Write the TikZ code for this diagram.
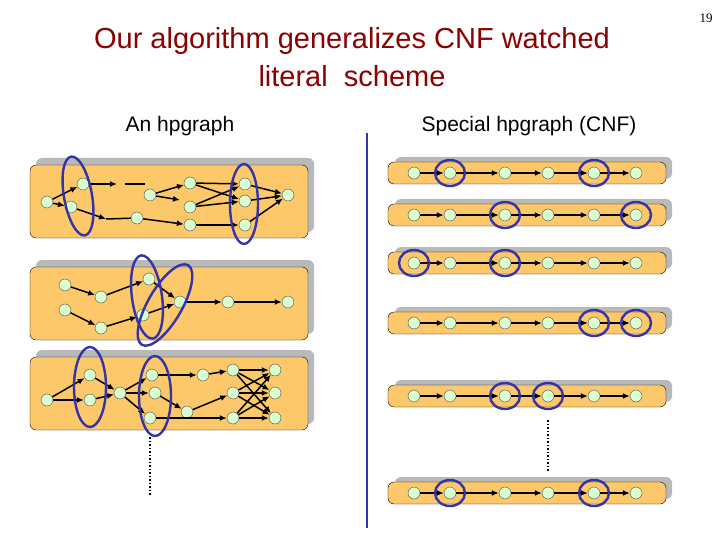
\documentclass[tikz,border=0pt]{standalone}
\usepackage{fontspec}
\setmainfont{Liberation Sans}
\newfontfamily\serifnum{Liberation Serif}
\usetikzlibrary{arrows.meta}
\definecolor{panel}{HTML}{FDC86A}
\definecolor{nodeg}{HTML}{D9FFD0}
\definecolor{ringc}{HTML}{3333AA}
\definecolor{titlec}{HTML}{8B0000}
\begin{document}
\begin{tikzpicture}[x=1pt,y=-1pt,
  v/.style={circle,draw=black!70,fill=nodeg,minimum size=12pt,inner sep=0pt},
  e/.style={-{Latex[length=7pt,width=6pt]},line width=1.5pt},
  ring/.style={draw=ringc,line width=2.4pt},
  shadowbox/.style={fill=gray!55,rounded corners=6pt},
  pbox/.style={fill=panel,draw=black,rounded corners=6pt}]
\useasboundingbox (0,0) rectangle (720,540);
\node[text=titlec,font=\fontsize{29}{38}\selectfont,align=center] (title) at (352,57) {Our algorithm generalizes CNF watched\\literal\ \ scheme};
\node[font=\serifnum\fontsize{13}{15}\selectfont] (pg) at (706,18) {19};
\node[font=\fontsize{21}{24}\selectfont] (l1) at (180,126) {An hpgraph};
\node[font=\fontsize{21}{24}\selectfont] (l2) at (529,126) {Special hpgraph (CNF)};
\draw[ringc,line width=2.5pt] (367,133) coordinate (d1) -- (367,528) coordinate (d2);
% left panels
\foreach \y in {165,267,357}{
  \fill[shadowbox] (36,\y-7) rectangle (314,\y+67);
  \draw[pbox] (30,\y) rectangle (308,\y+73);
}
% panel 1
\node[v] (a1) at (47,202) {}; \node[v] (a2) at (83,184) {}; \node[v] (a3) at (71,207) {};
\node[v] (a4) at (137,218) {}; \node[v] (a5) at (190,183) {}; \node[v] (a6) at (150,195) {};
\node[v] (a7) at (190,207) {}; \node[v] (a8) at (190,225) {}; \node[v] (a9) at (245,184) {};
\node[v] (a10) at (245,201) {}; \node[v] (a11) at (245,225) {}; \node[v] (a12) at (288,195) {};
\coordinate (c1) at (117,184); \coordinate (c2) at (125,184); \coordinate (c3) at (145,184);
\coordinate (c4) at (106,219); \coordinate (c5) at (180,200);
\draw[e] (a1)--(a2); \draw[e] (a1)--(a3); \draw[e] (a2)--(c1);
\draw[line width=1.5pt] (c2)--(c3);
\draw[e] (a3)--(c4); \draw[line width=1.5pt] (c4)--(a4);
\draw[e] (a4)--(a8); \draw[e] (a6)--(a5); \draw[e] (a6)--(c5);
\draw[e] (a5)--(a9); \draw[e] (a5)--(a10); \draw[e] (a7)--(a9); \draw[e] (a7)--(a10);
\draw[e] (a8)--(a11); \draw[e] (a9)--(a12); \draw[e] (a10)--(a12); \draw[e] (a11)--(a12);
\draw[ring] (78,196) ellipse [x radius=14,y radius=40,rotate=10];
\draw[ring] (244,204) ellipse [x radius=14,y radius=40];
% panel 2
\node[v] (b1) at (65,285) {}; \node[v] (b2) at (101,297) {}; \node[v] (b3) at (65,310) {};
\node[v] (b4) at (101,328) {}; \node[v] (b5) at (149,279) {}; \node[v] (b6) at (143,315) {};
\node[v] (b7) at (180,302) {}; \node[v] (b8) at (228,302) {}; \node[v] (b9) at (288,302) {};
\draw[e] (b1)--(b2); \draw[e] (b3)--(b4); \draw[e] (b2)--(b5); \draw[e] (b4)--(b6);
\draw[e] (b5)--(b7); \draw[e] (b6)--(b7); \draw[e] (b7)--(b8); \draw[e] (b8)--(b9);
\draw[ring] (147,297) ellipse [x radius=15,y radius=42,rotate=8];
\draw[ring] (165,305) ellipse [x radius=17,y radius=46,rotate=-30];
% panel 3
\node[v] (g1) at (47,400) {}; \node[v] (g2) at (90,375) {}; \node[v] (g3) at (90,400) {};
\node[v] (g4) at (120,393) {}; \node[v] (g5) at (152,375) {}; \node[v] (g6) at (155,393) {};
\node[v] (g7) at (150,418) {}; \node[v] (g8) at (187,412) {}; \node[v] (g9) at (203,375) {};
\node[v] (h1) at (233,370) {}; \node[v] (h2) at (233,393) {}; \node[v] (h3) at (233,418) {};
\node[v] (k1) at (275,370) {}; \node[v] (k2) at (275,393) {}; \node[v] (k3) at (275,418) {};
\draw[e] (g1)--(g2); \draw[e] (g1)--(g3); \draw[e] (g2)--(g4); \draw[e] (g3)--(g4);
\draw[e] (g4)--(g5); \draw[e] (g4)--(g6); \draw[e] (g4)--(g7); \draw[e] (g6)--(g8);
\draw[e] (g5)--(g9); \draw[e] (g9)--(h1); \draw[e] (g8)--(h2); \draw[e] (g7)--(h3);
\foreach \s in {h1,h2,h3}{\foreach \t in {k1,k2,k3}{\draw[e] (\s)--(\t);}}
\draw[ring] (90,387) ellipse [x radius=16,y radius=40];
\draw[ring] (155,396) ellipse [x radius=16,y radius=40];
\draw[line width=1.5pt,dotted] (150,437) coordinate (t1) -- (150,495) coordinate (t2);
% right panels
\foreach \y/\p/\q in {173/2/5,215/3/6,263/1/3,323/5/6,396/3/4,493/2/5}{
  \fill[shadowbox] (395,\y-16) rectangle (672,\y+6);
  \draw[pbox] (388,\y-11) rectangle (666,\y+11);
  \foreach \x [count=\i] in {414,450,505,548,594,636}{\node[v] (r\y-\i) at (\x,\y) {};}
  \foreach \i [evaluate=\i as \j using int(\i+1)] in {1,...,5}{\draw[e] (r\y-\i)--(r\y-\j);}
  \draw[ring] (r\y-\p) circle [x radius=15,y radius=13];
  \draw[ring] (r\y-\q) circle [x radius=15,y radius=13];
}
\draw[line width=1.5pt,dotted] (548,420) coordinate (t3) -- (548,472) coordinate (t4);
\end{tikzpicture}
\end{document}
